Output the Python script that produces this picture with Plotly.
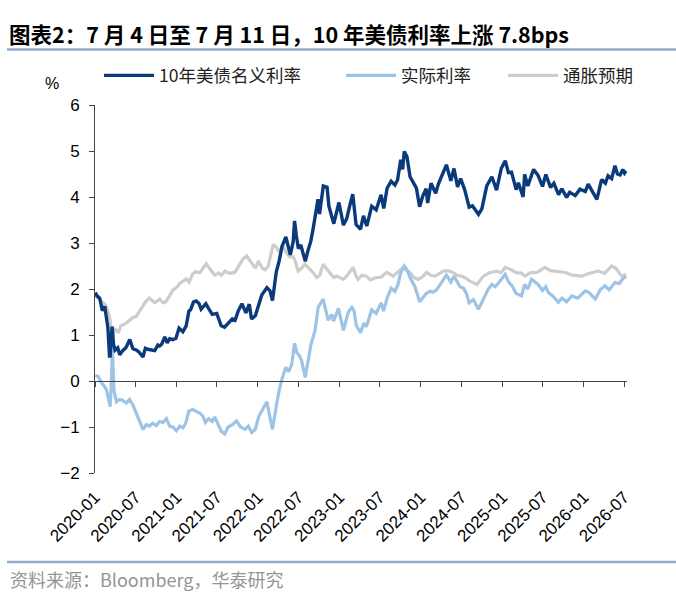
import plotly.graph_objects as go

TITLE = "图表2：7 月 4 日至 7 月 11 日，10 年美债利率上涨 7.8bps"
SOURCE = "资料来源：Bloomberg，华泰研究"
SERIES_NAMES = ["10年美债名义利率", "实际利率", "通胀预期"]
TICK_DATES = ["2020-01-01", "2020-07-01", "2021-01-01", "2021-07-01", "2022-01-01", "2022-07-01",
              "2023-01-01", "2023-07-01", "2024-01-01", "2024-07-01", "2025-01-01", "2025-07-01",
              "2026-01-01", "2026-07-01"]
TICK_TEXT = ["2020-01", "2020-07", "2021-01", "2021-07", "2022-01", "2022-07", "2023-01", "2023-07",
             "2024-01", "2024-07", "2025-01", "2025-07", "2026-01", "2026-07"]
Y_TICKS = [-2, -1, 0, 1, 2, 3, 4, 5, 6]

NOM_DATES = ["2020-01-02","2020-01-10","2020-01-22","2020-02-03","2020-02-14","2020-02-28","2020-03-06","2020-03-09",
 "2020-03-13","2020-03-18","2020-03-24","2020-03-31","2020-04-12","2020-04-21","2020-05-04","2020-05-18","2020-06-05",
 "2020-06-19","2020-07-06","2020-07-18","2020-08-03","2020-08-14","2020-08-25","2020-09-10","2020-09-25","2020-10-09",
 "2020-10-17","2020-10-26","2020-11-09","2020-11-20","2020-12-01","2020-12-15","2020-12-29","2021-01-12","2021-01-29",
 "2021-02-13","2021-02-25","2021-03-05","2021-03-18","2021-03-30","2021-04-12","2021-04-21","2021-05-12","2021-05-24",
 "2021-06-10","2021-06-30","2021-07-20","2021-08-04","2021-08-20","2021-09-08","2021-09-20","2021-10-05","2021-10-21",
 "2021-11-08","2021-11-23","2021-12-03","2021-12-20","2022-01-04","2022-01-18","2022-02-10","2022-02-24","2022-03-07",
 "2022-03-24","2022-04-06","2022-04-19","2022-05-06","2022-05-18","2022-05-26","2022-06-08","2022-06-14","2022-06-22",
 "2022-07-01","2022-07-12","2022-08-01","2022-08-14","2022-08-26","2022-09-06","2022-09-27","2022-10-04","2022-10-21",
 "2022-11-07","2022-11-15","2022-12-07","2022-12-30","2023-01-19","2023-02-03","2023-02-17","2023-03-02","2023-03-17",
 "2023-04-06","2023-04-19","2023-05-04","2023-05-26","2023-06-15","2023-07-07","2023-07-19","2023-08-03","2023-08-21",
 "2023-09-07","2023-09-19","2023-10-03","2023-10-12","2023-10-19","2023-10-31","2023-11-14","2023-11-28","2023-12-12",
 "2023-12-27","2024-01-10","2024-01-25","2024-02-01","2024-02-16","2024-03-08","2024-03-20","2024-04-10","2024-04-25",
 "2024-05-15","2024-05-29","2024-06-14","2024-06-28","2024-07-16","2024-08-05","2024-08-20","2024-09-16","2024-10-01",
 "2024-10-23","2024-11-15","2024-12-06","2024-12-27","2025-01-14","2025-01-28","2025-02-11","2025-03-04","2025-03-14",
 "2025-04-04","2025-04-11","2025-04-25","2025-05-21","2025-06-10","2025-06-30","2025-07-15","2025-08-05","2025-08-20",
 "2025-09-10","2025-09-25","2025-10-16","2025-10-30","2025-11-24","2025-12-15","2026-01-08","2026-01-21","2026-02-10",
 "2026-03-01","2026-03-22","2026-04-08","2026-04-20","2026-05-06","2026-05-21","2026-06-01","2026-06-13","2026-06-25",
 "2026-07-03","2026-07-10"]
NOM_VALS = [1.92,1.85,1.80,1.53,1.62,1.15,0.54,0.54,
 0.85,1.18,0.80,0.67,0.72,0.57,0.66,0.72,0.90,
 0.70,0.67,0.62,0.52,0.71,0.69,0.68,0.66,0.78,
 0.76,0.80,0.96,0.83,0.92,0.90,0.93,1.15,1.07,
 1.20,1.52,1.55,1.72,1.74,1.68,1.56,1.68,1.58,
 1.45,1.47,1.20,1.17,1.26,1.35,1.32,1.53,1.68,
 1.48,1.67,1.35,1.42,1.66,1.87,2.03,1.96,1.75,
 2.37,2.61,2.93,3.13,2.88,2.74,3.03,3.48,3.16,
 2.88,2.96,2.60,2.85,3.04,3.33,3.95,3.63,4.24,
 4.21,3.80,3.42,3.88,3.39,3.53,3.82,4.06,3.40,
 3.30,3.59,3.37,3.80,3.72,4.05,3.75,4.19,4.34,
 4.26,4.37,4.81,4.60,4.99,4.88,4.44,4.33,4.20,
 3.79,4.02,4.18,3.87,4.30,4.08,4.28,4.55,4.70,
 4.35,4.62,4.22,4.40,4.16,3.78,3.81,3.62,3.74,
 4.24,4.44,4.15,4.62,4.79,4.53,4.54,4.16,4.31,
 4.00,4.49,4.24,4.60,4.47,4.23,4.49,4.21,4.30,
 4.05,4.18,3.99,4.10,4.03,4.17,4.12,4.28,4.12,
 3.95,4.38,4.30,4.46,4.40,4.68,4.50,4.48,4.60,
 4.52,4.57]

REAL_DATES = ["2020-01-02","2020-01-15","2020-01-28","2020-02-07","2020-02-21","2020-03-04","2020-03-09","2020-03-13",
 "2020-03-19","2020-03-26","2020-04-06","2020-04-20","2020-05-04","2020-05-20","2020-06-04","2020-06-19","2020-07-03",
 "2020-07-18","2020-08-03","2020-08-18","2020-09-01","2020-09-16","2020-10-02","2020-10-16","2020-11-01","2020-11-16",
 "2020-12-01","2020-12-15","2020-12-31","2021-01-15","2021-01-30","2021-02-12","2021-02-25","2021-03-14","2021-03-29",
 "2021-04-15","2021-04-28","2021-05-10","2021-05-24","2021-06-10","2021-06-21","2021-07-06","2021-07-21","2021-08-05",
 "2021-08-20","2021-09-08","2021-09-27","2021-10-15","2021-11-04","2021-11-18","2021-12-04","2021-12-20","2022-01-04",
 "2022-01-18","2022-02-10","2022-02-24","2022-03-07","2022-03-24","2022-04-06","2022-04-19","2022-05-06","2022-05-18",
 "2022-06-01","2022-06-14","2022-06-24","2022-07-06","2022-07-15","2022-08-01","2022-08-12","2022-08-26","2022-09-14",
 "2022-09-28","2022-10-20","2022-11-12","2022-11-28","2022-12-06","2022-12-28","2023-01-19","2023-02-10","2023-02-26",
 "2023-03-08","2023-03-18","2023-04-06","2023-04-21","2023-05-02","2023-05-26","2023-06-15","2023-07-07","2023-07-18",
 "2023-08-03","2023-08-21","2023-09-07","2023-09-21","2023-10-03","2023-10-19","2023-10-31","2023-11-14","2023-12-06",
 "2023-12-27","2024-01-10","2024-01-25","2024-02-12","2024-02-26","2024-03-12","2024-04-11","2024-04-25","2024-05-15",
 "2024-05-29","2024-06-25","2024-07-10","2024-07-24","2024-08-05","2024-08-24","2024-09-16","2024-10-08","2024-10-30",
 "2024-11-15","2024-11-30","2024-12-18","2025-01-14","2025-01-28","2025-02-13","2025-03-04","2025-03-28","2025-04-11",
 "2025-04-25","2025-05-12","2025-05-28","2025-06-10","2025-06-30","2025-07-15","2025-07-25","2025-08-15","2025-09-09",
 "2025-09-25","2025-10-16","2025-11-09","2025-12-05","2026-01-08","2026-01-25","2026-02-22","2026-03-15","2026-04-06",
 "2026-04-25","2026-05-21","2026-06-10","2026-06-25","2026-07-10"]
REAL_VALS = [0.12,0.10,-0.02,-0.08,-0.18,-0.45,-0.56,-0.20,
 0.70,-0.20,-0.45,-0.40,-0.42,-0.48,-0.40,-0.52,-0.70,
 -0.85,-1.05,-0.95,-0.98,-0.92,-0.97,-0.88,-0.90,-0.82,
 -0.98,-1.00,-1.08,-0.98,-1.02,-0.90,-0.65,-0.62,-0.65,
 -0.70,-0.76,-0.90,-0.82,-0.88,-0.78,-0.95,-1.10,-1.15,
 -1.00,-0.95,-0.87,-1.00,-1.05,-0.98,-1.12,-1.05,-0.78,
 -0.65,-0.45,-0.80,-1.05,-0.55,-0.20,0.05,0.30,0.20,
 0.35,0.82,0.62,0.55,0.45,0.08,0.40,0.78,1.10,
 1.60,1.78,1.32,1.45,1.30,1.58,1.10,1.50,1.60,
 1.52,1.20,1.05,1.26,1.18,1.55,1.47,1.70,1.52,
 1.80,2.02,1.95,2.10,2.35,2.50,2.42,2.25,2.05,
 1.72,1.80,1.90,1.95,1.93,1.98,2.20,2.30,2.15,
 2.28,2.05,2.02,1.90,1.70,1.77,1.56,1.78,2.00,
 2.10,2.05,2.15,2.32,2.16,2.07,1.90,1.85,2.10,
 2.00,2.21,2.14,2.10,1.97,2.05,1.93,1.85,1.71,
 1.80,1.72,1.85,1.80,1.96,1.92,1.78,1.98,2.07,
 1.98,2.14,2.12,2.22,2.28]

BEI_DATES = ["2020-01-02","2020-01-22","2020-02-06","2020-02-19","2020-03-06","2020-03-13","2020-03-19","2020-03-26",
 "2020-04-03","2020-04-15","2020-04-26","2020-05-18","2020-06-04","2020-06-19","2020-07-03","2020-07-18","2020-08-03",
 "2020-08-16","2020-09-01","2020-09-25","2020-10-17","2020-11-02","2020-11-15","2020-12-01","2020-12-16","2021-01-05",
 "2021-01-15","2021-02-13","2021-02-26","2021-03-14","2021-03-29","2021-04-14","2021-04-28","2021-05-14","2021-05-28",
 "2021-06-21","2021-07-08","2021-07-21","2021-08-06","2021-08-25","2021-09-19","2021-10-06","2021-10-25","2021-11-11",
 "2021-11-25","2021-12-04","2021-12-20","2022-01-03","2022-01-20","2022-02-02","2022-02-16","2022-03-10","2022-03-25",
 "2022-04-07","2022-04-21","2022-05-08","2022-05-23","2022-06-08","2022-06-16","2022-06-30","2022-07-15","2022-07-30",
 "2022-08-22","2022-09-07","2022-09-21","2022-10-05","2022-10-20","2022-11-05","2022-11-20","2022-12-06","2022-12-20",
 "2023-01-05","2023-01-19","2023-02-06","2023-03-03","2023-03-17","2023-03-26","2023-04-12","2023-05-02","2023-05-20",
 "2023-06-16","2023-07-05","2023-08-01","2023-08-15","2023-08-30","2023-09-20","2023-10-14","2023-10-30","2023-11-14",
 "2023-12-01","2023-12-20","2024-01-10","2024-01-27","2024-02-15","2024-03-05","2024-03-22","2024-04-11","2024-05-02",
 "2024-05-24","2024-06-12","2024-07-02","2024-07-20","2024-08-09","2024-09-09","2024-09-24","2024-10-08","2024-11-07",
 "2024-12-07","2024-12-25","2025-01-14","2025-02-10","2025-03-05","2025-03-25","2025-04-13","2025-05-05","2025-06-05",
 "2025-07-11","2025-08-05","2025-09-05","2025-10-10","2025-11-10","2025-12-24","2026-01-20","2026-03-06","2026-04-05",
 "2026-05-06","2026-05-25","2026-06-20","2026-07-10"]
BEI_VALS = [1.85,1.78,1.70,1.65,1.40,1.20,0.95,1.10,
 1.12,1.05,1.20,1.25,1.32,1.38,1.40,1.52,1.62,
 1.73,1.80,1.70,1.78,1.70,1.73,1.85,1.98,2.05,
 2.12,2.22,2.15,2.33,2.38,2.35,2.45,2.55,2.45,
 2.30,2.35,2.30,2.39,2.34,2.36,2.50,2.65,2.72,
 2.62,2.57,2.45,2.61,2.45,2.42,2.50,2.97,2.90,
 2.80,2.95,2.79,2.70,2.70,2.62,2.39,2.45,2.54,
 2.43,2.35,2.25,2.30,2.54,2.45,2.36,2.25,2.28,
 2.25,2.21,2.30,2.47,2.28,2.21,2.30,2.28,2.20,
 2.25,2.25,2.36,2.33,2.28,2.37,2.47,2.40,2.36,
 2.25,2.21,2.27,2.36,2.30,2.28,2.33,2.39,2.40,
 2.36,2.30,2.28,2.24,2.17,2.10,2.18,2.28,2.36,
 2.39,2.35,2.47,2.42,2.35,2.35,2.28,2.35,2.36,
 2.47,2.40,2.38,2.36,2.30,2.28,2.33,2.39,2.34,
 2.50,2.45,2.28,2.32]

C_NOM = "#0A3A7C"
C_REAL = "#9DC3E6"
C_BEI = "#CDCDCD"
CN_FONT = "Noto Sans CJK SC"
AR_FONT = "Liberation Sans, Arial"

fig = go.Figure()
fig.add_trace(go.Scatter(x=BEI_DATES, y=BEI_VALS, mode="lines", name=SERIES_NAMES[2],
                         line=dict(color=C_BEI, width=3.2), legend="legend3"))
fig.add_trace(go.Scatter(x=REAL_DATES, y=REAL_VALS, mode="lines", name=SERIES_NAMES[1],
                         line=dict(color=C_REAL, width=3.2), legend="legend2"))
fig.add_trace(go.Scatter(x=NOM_DATES, y=NOM_VALS, mode="lines", name=SERIES_NAMES[0],
                         line=dict(color=C_NOM, width=3.4), legend="legend"))
# carrier for the bottom label axis
fig.add_trace(go.Scatter(x=[TICK_DATES[0]], y=[None], xaxis="x2", showlegend=False,
                         hoverinfo="skip", mode="lines"))

PW = 532.0
PH = 368.0
def lg(xpx):
    return dict(orientation="h", x=(xpx - 95) / PW, xanchor="left", y=1 + (105 - 75.5) / PH,
                yanchor="middle", font=dict(family=CN_FONT, size=17.5, color="#222222"),
                itemwidth=50, bgcolor="rgba(0,0,0,0)")

x_range = ["2020-01-01", "2026-07-14"]
fig.update_layout(
    width=676, height=608,
    margin=dict(l=95, r=49, t=105, b=135),
    paper_bgcolor="white", plot_bgcolor="white",
    showlegend=True,
    legend=lg(99), legend2=lg(341), legend3=lg(503),
    xaxis=dict(type="date", range=x_range, anchor="free", position=0.25,
               tickvals=TICK_DATES, showticklabels=False, ticks="outside", ticklen=5,
               tickcolor="#444444", showline=True, linecolor="#444444", linewidth=1,
               showgrid=False, zeroline=False),
    xaxis2=dict(type="date", range=x_range, overlaying="x", anchor="y", side="bottom",
                matches="x", tickvals=TICK_DATES, ticktext=TICK_TEXT, tickangle=-45,
                ticks="", showline=False, showgrid=False, zeroline=False, ticklabelstandoff=10,
                tickfont=dict(family=AR_FONT, size=17, color="black")),
    yaxis=dict(range=[-2, 6], tickvals=Y_TICKS, ticks="outside", ticklen=5, tickcolor="#444444",
               showline=True, linecolor="#444444", linewidth=1, showgrid=False, zeroline=False,
               tickfont=dict(family=AR_FONT, size=17, color="black"), ticklabelstandoff=6),
    annotations=[
        dict(text="<b>" + TITLE + "</b>", xref="paper", yref="paper", x=-95/PW, y=1 + (105-33)/PH,
             xanchor="left", yanchor="middle", showarrow=False, xshift=7,
             font=dict(family=CN_FONT, size=21.5, color="black")),
        dict(text="%", xref="paper", yref="paper", x=-43/PW, y=1 + (105-83)/PH,
             xanchor="center", yanchor="middle", showarrow=False,
             font=dict(family=AR_FONT, size=16, color="black")),
        dict(text=SOURCE, xref="paper", yref="paper", x=-95/PW, y=-(579-473)/PH,
             xanchor="left", yanchor="middle", showarrow=False, xshift=8,
             font=dict(family=CN_FONT, size=18, color="#959595")),
    ],
    shapes=[
        dict(type="line", xref="paper", yref="paper", x0=-88/PW, x1=(676-95)/PW,
             y0=1 + (105-49.5)/PH, y1=1 + (105-49.5)/PH, line=dict(color="#93AAC8", width=2.5)),
        dict(type="line", xref="paper", yref="paper", x0=-88/PW, x1=(676-95)/PW,
             y0=-(562-473)/PH, y1=-(562-473)/PH, line=dict(color="#93AAC8", width=2.5)),
    ],
)

fig.write_html("out.html")
